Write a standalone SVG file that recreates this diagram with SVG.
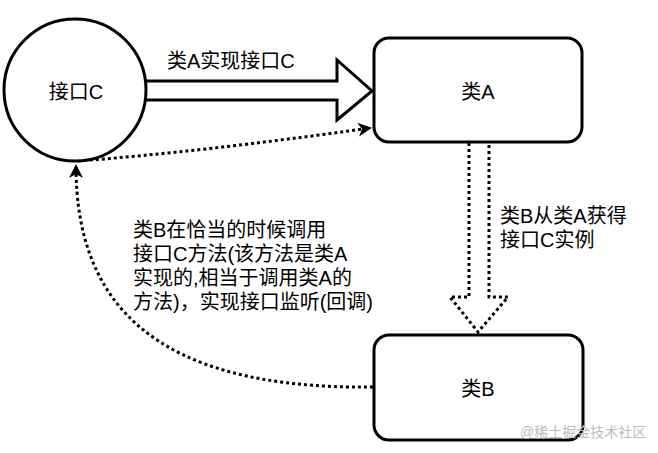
<svg xmlns="http://www.w3.org/2000/svg" width="658" height="453" viewBox="0 0 658 453">
<style>
text{font-family:"Liberation Sans","Noto Sans CJK SC",sans-serif;font-size:20px;fill:#000}
.n{fill:#fff;stroke:#000;stroke-width:3}
.d{fill:none;stroke:#000;stroke-width:3;stroke-dasharray:3 3}
.c{text-anchor:middle}
</style>
<defs>
<marker id="ah2" markerWidth="14" markerHeight="14" refX="12" refY="7" orient="auto" markerUnits="userSpaceOnUse" viewBox="0 0 14 14"><path d="M0,0 L14,7 L0,14 L4,7 Z" fill="#000"/></marker>
</defs>
<rect width="658" height="453" fill="#fff"/>
<g id="connectors">
<path d="M146,81 H337 V60 L372,91 L337,120 V100 H146" fill="#fff" stroke="#000" stroke-width="3" stroke-linejoin="miter"/>
<path class="d" d="M78,161 Q200,152 370,128" marker-end="url(#ah2)"/>
<path class="d" d="M469,143 V297 H450 L478,332 L508,297 H489 V143"/>
<path class="d" d="M373,387 C150,390 76,300 76,166" marker-end="url(#ah2)"/>
<text x="167" y="68">类A实现接口C</text>
<text x="500" y="223">类B从类A获得</text>
<text x="500" y="247">接口C实例</text>
<text x="133" y="237">类B在恰当的时候调用</text>
<text x="133" y="261">接口C方法(该方法是类A</text>
<text x="133" y="285">实现的,相当于调用类A的</text>
<text x="133" y="309">方法)，实现接口监听(回调)</text>
</g>
<g id="nodeC"><circle class="n" cx="75" cy="90" r="71"/><text class="c" x="76" y="99">接口C</text></g>
<g id="nodeA"><rect class="n" x="374" y="38" width="208" height="104" rx="15"/><text class="c" x="478" y="99">类A</text></g>
<g id="nodeB"><rect class="n" x="374" y="335" width="209" height="105" rx="15"/><text class="c" x="478" y="396">类B</text></g>
<text x="520" y="437" style="font-size:14px;fill:#bbb">@稀土掘金技术社区</text>
</svg>
